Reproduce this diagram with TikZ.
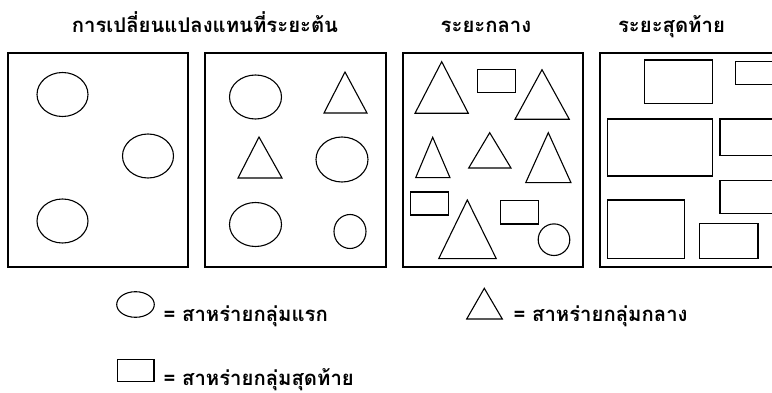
\documentclass[tikz,border=0pt]{standalone}
\usepackage{fontspec}
\newfontfamily\thaifont[Script=Thai]{Loma}
\begin{document}
\begin{tikzpicture}[x=1pt,y=-1pt,
  panel/.style={draw=black,line width=1.4pt},
  shp/.style={draw=black,line width=1.1pt},
  title/.style={font=\thaifont\bfseries\fontsize{20.3}{24}\selectfont,anchor=base,inner sep=0pt},
  legtext/.style={font=\thaifont\bfseries\fontsize{20.3}{24}\selectfont,anchor=base west,inner sep=0pt}]
\useasboundingbox (0,0) rectangle (772,393);
\clip (0,0) rectangle (772,393);
% titles
\node[title] (t1) at (205,33) {การเปลี่ยนแปลงแทนที่ระยะต้น};
\node[title] (t2) at (486,33) {ระยะกลาง};
\node[title] (t3) at (671.5,33) {ระยะสุดท้าย};
% panels
\draw[panel] (8,53) rectangle (188,267);
\draw[panel] (205,53) rectangle (386,267);
\draw[panel] (403,53) rectangle (583,267);
\draw[panel] (600,53) rectangle (800,267);
% panel 1
\draw[shp] (62.5,94.5) ellipse [x radius=25.5,y radius=22];
\draw[shp] (148,156) ellipse [x radius=25.5,y radius=22];
\draw[shp] (62.5,221) ellipse [x radius=25.5,y radius=22];
% panel 2
\draw[shp] (255.5,97) ellipse [x radius=26,y radius=22];
\draw[shp] (345,72) -- (367,113) -- (324,113) -- cycle;
\draw[shp] (259,137) -- (282,178) -- (238,178) -- cycle;
\draw[shp] (342,159.5) ellipse [x radius=26,y radius=22.5];
\draw[shp] (255.5,224.5) ellipse [x radius=26,y radius=22];
\draw[shp] (350,231.5) ellipse [x radius=16,y radius=17];
% panel 3
\draw[shp] (441.7,61.7) -- (468.3,113.3) -- (415,113.3) -- cycle;
\draw[shp] (477.3,69.7) rectangle (515.3,92.7);
\draw[shp] (542,69.7) -- (569.3,119.3) -- (515,119.3) -- cycle;
\draw[shp] (432.7,137.3) -- (450,177.7) -- (415.7,177.7) -- cycle;
\draw[shp] (489.7,132.7) -- (511,168) -- (468.7,168) -- cycle;
\draw[shp] (548.3,132.7) -- (571,182.7) -- (525.7,182.7) -- cycle;
\draw[shp] (410.7,192) rectangle (448.7,215);
\draw[shp] (467.3,200) -- (496.3,258.7) -- (438.7,258.7) -- cycle;
\draw[shp] (500.7,200.7) rectangle (538.7,224);
\draw[shp] (554,239.7) circle [radius=15.8];
% panel 4
\draw[shp] (644.3,60) rectangle (712.3,103.3);
\draw[shp] (735.7,61.3) rectangle (790,84.3);
\draw[shp] (607.3,119) rectangle (712.3,176);
\draw[shp] (720,119) rectangle (790,155.3);
\draw[shp] (720,180.7) rectangle (790,213.7);
\draw[shp] (607.3,200) rectangle (684.3,258.7);
\draw[shp] (699.7,223.7) rectangle (758,258.7);
% legend
\draw[shp] (135.5,304.5) ellipse [x radius=18.8,y radius=12.8];
\node[legtext] (l1) at (163.3,321.7) {= สาหร่ายกลุ่มแรก};
\draw[shp] (484.3,288.3) -- (502.3,319) -- (466.7,319) -- cycle;
\node[legtext] (l2) at (513.3,321.7) {= สาหร่ายกลุ่มกลาง};
\draw[shp] (117.3,359.3) rectangle (154,381.7);
\node[legtext] (l3) at (163.3,385) {= สาหร่ายกลุ่มสุดท้าย};
\end{tikzpicture}
\end{document}
